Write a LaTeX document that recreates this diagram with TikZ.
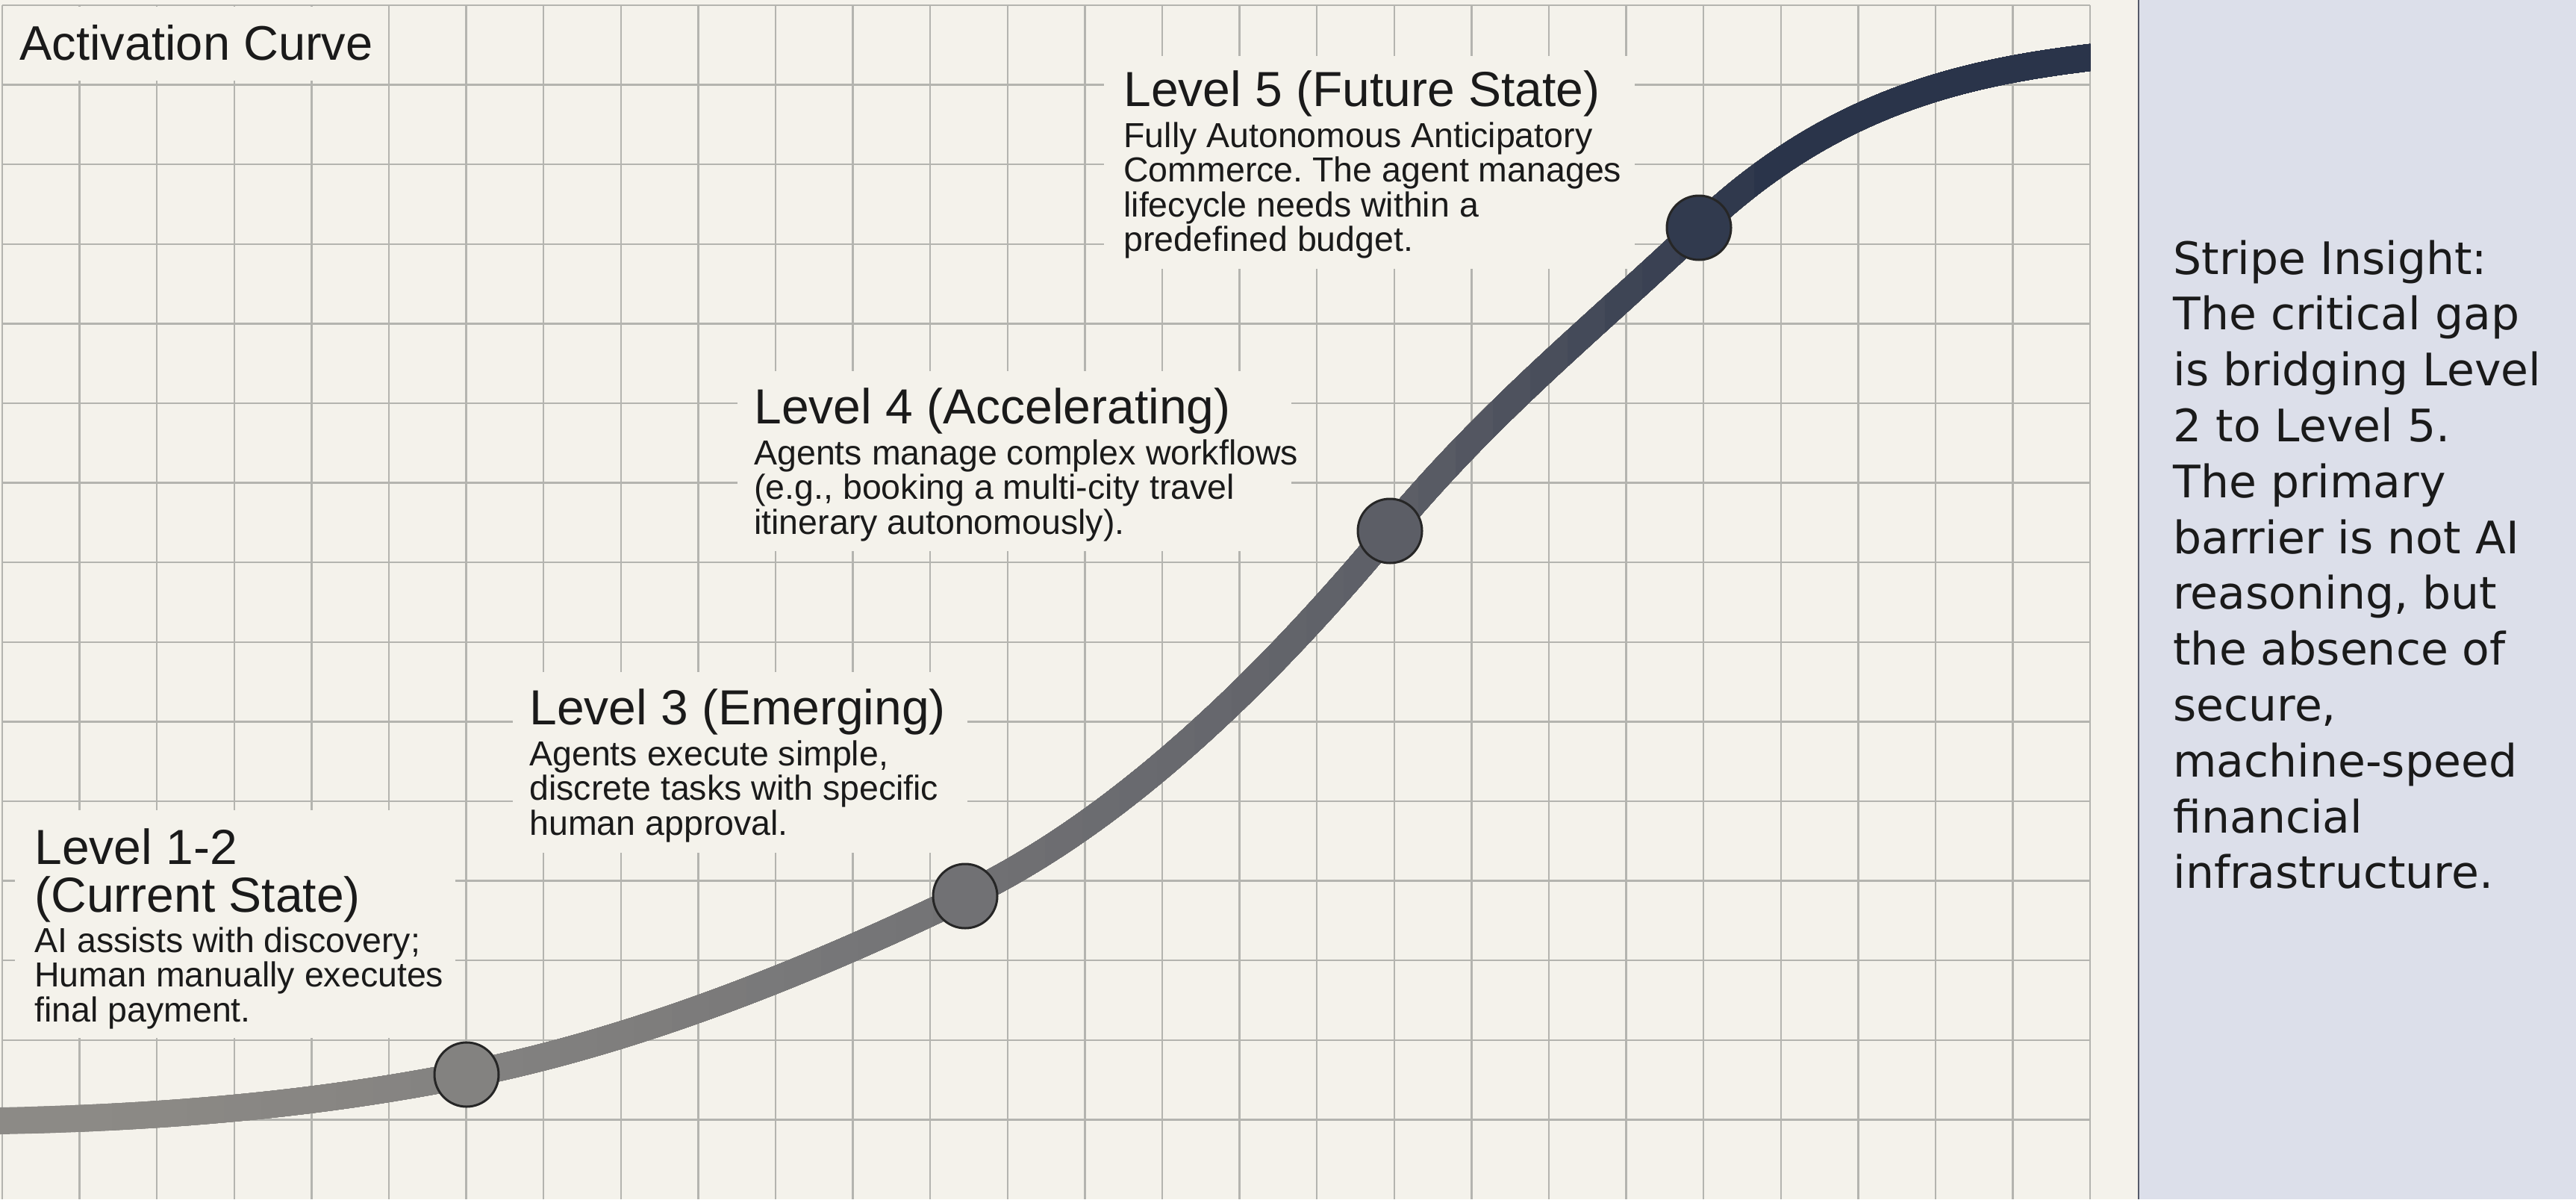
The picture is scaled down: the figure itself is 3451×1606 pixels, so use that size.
\documentclass[tikz,border=0pt]{standalone}
\usepackage{fontspec}
\setmainfont{Liberation Sans}
\newfontfamily\panelfont{DejaVu Sans}
\frenchspacing
\definecolor{bgc}{HTML}{F4F2EB}
\definecolor{gridc}{HTML}{B4B4AF}
\definecolor{panelc}{HTML}{DCDFEA}
\definecolor{divc}{HTML}{555A6A}
\definecolor{curveL}{HTML}{8C8A86}
\definecolor{curveM}{HTML}{5C5E66}
\definecolor{curveR}{HTML}{2A344A}
\definecolor{inkc}{HTML}{1A1A1A}
\newcommand{\actcurve}[1]{\draw[#1] (cs0) -- (p0) .. controls (208.3,1496.8) and (416.7,1480.7) .. (p1) .. controls (847.7,1394.5) and (1070.3,1306.9) .. (p2) .. controls (1482.7,1108.9) and (1672.3,938.6) .. (p3) .. controls (2000,545.4) and (2138,436.1) .. (p4) .. controls (2450.7,139) and (2625.3,98) .. (p5) -- (ce);}
\begin{document}
\begin{tikzpicture}[x=0.5pt, y=-0.5pt,
  gridline/.style={draw=gridc, line width=1.2pt},
  labelbg/.style={fill=bgc},
  hdr/.style={anchor=base west, inner sep=0pt, text=inkc, font=\fontsize{32.5pt}{32.5pt}\selectfont},
  ttl/.style={anchor=base west, inner sep=0pt, text=inkc, font=\fontsize{33pt}{33pt}\selectfont},
  bdy/.style={anchor=base west, inner sep=0pt, text=inkc, font=\fontsize{23.25pt}{23.25pt}\selectfont},
  ptext/.style={anchor=base west, inner sep=0pt, text=inkc, font=\panelfont\fontsize{30pt}{30pt}\selectfont},
  stage/.style={circle, draw=black!85, line width=1.5pt, minimum size=43pt, inner sep=0pt},
  curveline/.style={line width=18pt, line cap=butt, line join=round}]
\useasboundingbox (0,0) rectangle (3451,1606);
\fill[bgc] (0,0) rectangle (3451,1606);
% key points of the curve
\coordinate (cs0) at (-30,1501.6);
\coordinate (p0) at (0,1501);
\coordinate (p1) at (625,1439);
\coordinate (p2) at (1293,1200);
\coordinate (p3) at (1862,711);
\coordinate (p4) at (2276,305);
\coordinate (p5) at (2800,77);
\coordinate (ce) at (2840,72);
% grid
\foreach \k in {0,...,27} \draw[gridline] ({3+103.6*\k},7) -- ({3+103.6*\k},1606);
\foreach \k in {0,...,14} \draw[gridline] (3,{7+106.6*\k}) -- (2800,{7+106.6*\k});
% label backgrounds
\fill[labelbg] (5,9) rectangle (505,108);
\fill[labelbg] (20,1085) rectangle (610,1390);
\fill[labelbg] (687,900) rectangle (1296,1142);
\fill[labelbg] (988,497) rectangle (1730,738);
\fill[labelbg] (1479,75) rectangle (2190,360);
% right panel
\fill[panelc] (2865,0) rectangle (3451,1606);
\draw[divc, line width=1.3pt] (2865,0) -- (2865,1606);
% curve with gradient
\foreach \k in {0,...,56} {
  \pgfmathsetmacro{\xs}{\k*50}
  \pgfmathtruncatemacro{\pa}{100*(min(1,\xs/1862))^1.5}
  \pgfmathtruncatemacro{\pb}{100*max(0,min(1,(\xs-1862)/488))}
  \colorlet{cc}{curveM!\pa!curveL}
  \colorlet{cc}{curveR!\pb!cc}
  \begin{scope}
    \clip (\xs,-10) rectangle (2800,1620);
    \actcurve{curveline, draw=cc}
  \end{scope}
}
% stage dots
\node[stage, fill=curveM!19!curveL] (d1) at (p1) {};
\node[stage, fill=curveM!57!curveL] (d2) at (p2) {};
\node[stage, fill=curveM] (d3) at (p3) {};
\node[stage, fill=curveR!85!curveM] (d4) at (p4) {};
% header
\node[hdr] (hdr) at (26,80) {Activation Curve};
% Level 1-2
\node[ttl] (l12a) at (46,1157) {Level 1-2};
\node[ttl] (l12b) at (46,1221) {(Current State)};
\foreach \t [count=\i] in {{AI assists with discovery;},{Human manually executes},{final payment.}}
  \node[bdy] (l12c\i) at (46,{1228.5+46.5*\i}) {\t};
% Level 3
\node[ttl] (l3a) at (709,970) {Level 3 (Emerging)};
\foreach \t [count=\i] in {{Agents execute simple,},{discrete tasks with specific},{human approval.}}
  \node[bdy] (l3b\i) at (709,{978.5+46.5*\i}) {\t};
% Level 4
\node[ttl] (l4a) at (1010,567) {Level 4 (Accelerating)};
\foreach \t [count=\i] in {{Agents manage complex workflows},{(e.g., booking a multi-city travel},{itinerary autonomously).}}
  \node[bdy] (l4b\i) at (1010,{575.5+46.5*\i}) {\t};
% Level 5
\node[ttl] (l5a) at (1505,142) {Level 5 (Future State)};
\foreach \t [count=\i] in {{Fully Autonomous Anticipatory},{Commerce. The agent manages},{lifecycle needs within a},{predefined budget.}}
  \node[bdy] (l5b\i) at (1505,{150.5+46.5*\i}) {\t};
% panel text
\foreach \t [count=\i] in {{Stripe Insight:},{The critical gap},{is bridging Level},{2 to Level 5.},{The primary},{barrier is not AI},{reasoning, but},{the absence of},{secure,},{machine-speed},{financial},{infrastructure.}}
  \node[ptext] (pt\i) at (2911,{292.2+74.8*\i}) {\t};
\end{tikzpicture}
\end{document}
